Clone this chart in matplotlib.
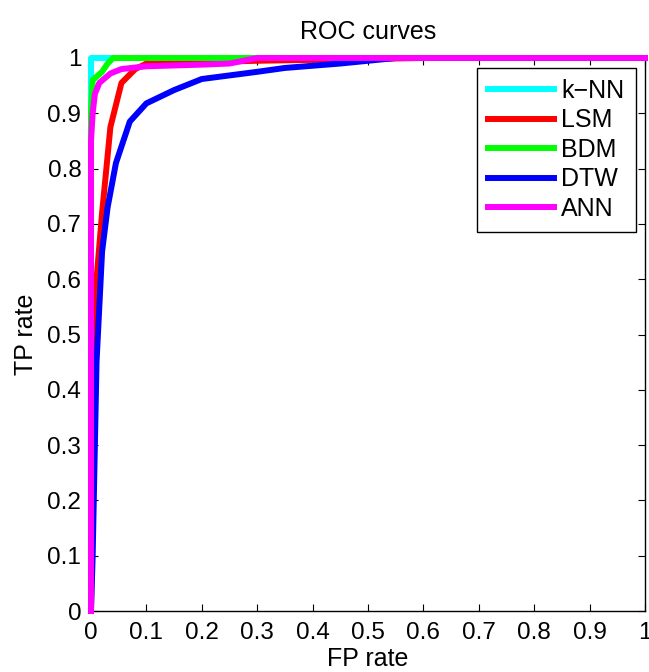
import matplotlib
matplotlib.use("Agg")
import matplotlib.pyplot as plt
import numpy as np

plt.rcParams['font.family'] = ['Liberation Sans', 'DejaVu Sans']

# datos de las curvas ROC
knn_fp = [0, 0, 1]
knn_tp = [0, 1, 1]

lsm_fp = [0, 0.005, 0.01, 0.02, 0.035, 0.055, 0.08, 0.1, 0.3, 0.6, 1]
lsm_tp = [0, 0.45, 0.6, 0.72, 0.875, 0.955, 0.98, 0.99, 0.995, 1, 1]

bdm_fp = [0, 0, 0.003, 0.02, 0.03, 0.04, 1]
bdm_tp = [0, 0.9, 0.96, 0.975, 0.99, 1, 1]

dtw_fp = [0, 0.003, 0.01, 0.02, 0.03, 0.045, 0.07, 0.1, 0.15, 0.2, 0.3, 0.35, 0.45, 0.55, 1]
dtw_tp = [0, 0.1, 0.45, 0.65, 0.73, 0.81, 0.885, 0.918, 0.942, 0.962, 0.975, 0.982, 0.99, 1, 1]

ann_fp = [0, 0, 0.003, 0.007, 0.015, 0.035, 0.055, 0.1, 0.2, 0.25, 0.3, 1]
ann_tp = [0, 0.85, 0.9, 0.935, 0.955, 0.972, 0.98, 0.985, 0.988, 0.99, 1, 1]

etiquetas = ['k\u2212NN', 'LSM', 'BDM', 'DTW', 'ANN']
colores = ['#00ffff', '#ff0000', '#00ff00', '#0000ff', '#ff00ff']

fig = plt.figure(figsize=(6.49, 6.72), dpi=100)
ax = fig.add_axes([91/649, 61/672, 554/649, 553/672])

curvas = [(knn_fp, knn_tp), (lsm_fp, lsm_tp), (bdm_fp, bdm_tp), (dtw_fp, dtw_tp), (ann_fp, ann_tp)]
for (fp, tp), lab, col in zip(curvas, etiquetas, colores):
    ax.plot(fp, tp, color=col, linewidth=4.3, label=lab, clip_on=False, zorder=3)

ax.set_xlim(0, 1)
ax.set_ylim(0, 1)
ticks = np.round(np.arange(0, 1.01, 0.1), 1)
nombres = ['0' if t == 0 else ('1' if t == 1 else str(t)) for t in ticks]
ax.set_xticks(ticks)
ax.set_yticks(ticks)
ax.set_xticklabels(nombres)
ax.set_yticklabels(nombres)
ax.tick_params(direction='in', top=True, right=True, length=5, labelsize=17.5, width=0.8)
ax.tick_params(axis='x', pad=8)
ax.tick_params(axis='y', pad=7)
for s in ax.spines.values():
    s.set_linewidth(1)

ax.set_title('ROC curves', fontsize=18, pad=14)
ax.set_xlabel('FP rate', fontsize=18, labelpad=2)
ax.set_ylabel('TP rate', fontsize=18, labelpad=7)

leg = ax.legend(loc='upper right', fontsize=18, fancybox=False, framealpha=1,
                edgecolor='black', handlelength=2.64, handletextpad=0.28,
                borderaxespad=0.38, borderpad=0.45, labelspacing=0.22)
leg.get_frame().set_linewidth(1)

fig.savefig('out.png', dpi=100)
